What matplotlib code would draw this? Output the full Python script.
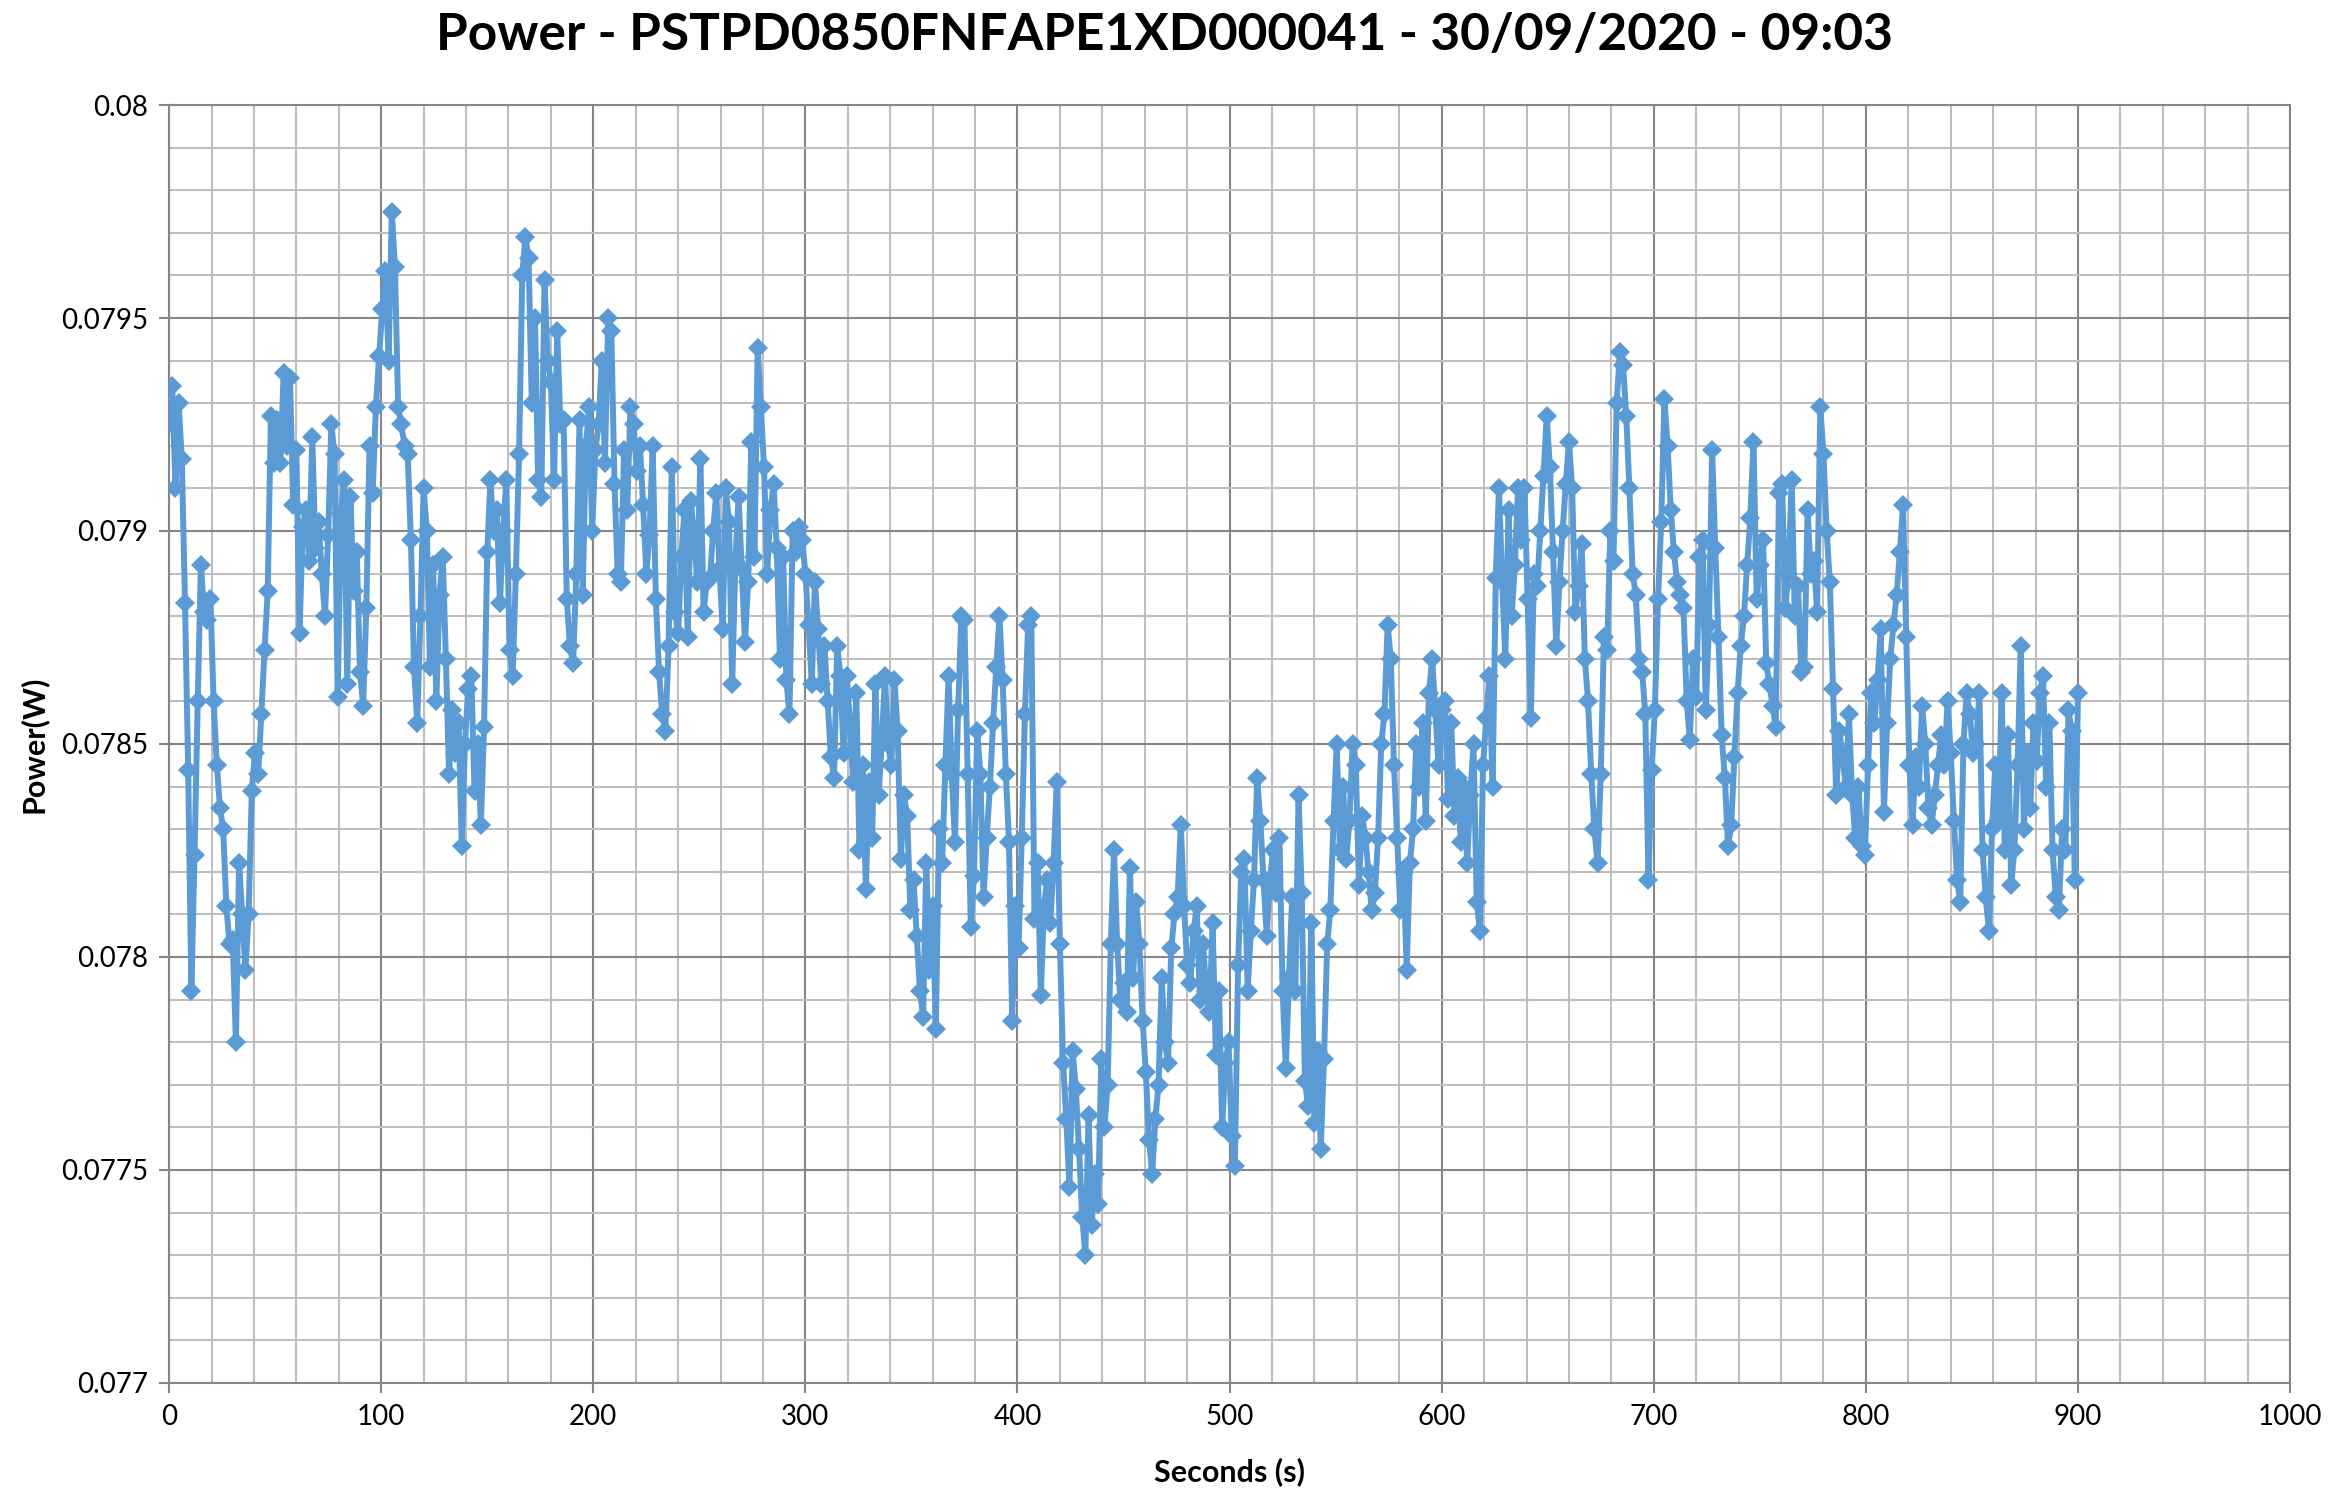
import numpy as np
import matplotlib
matplotlib.use("Agg")
import matplotlib.pyplot as plt
from matplotlib.ticker import MultipleLocator, FuncFormatter

# logged power samples (W), one every 1.5 s from 0 s to 900 s
power_w = [
    0.07925, 0.07934, 0.07910, 0.07930, 0.07917, 0.07883, 0.07844, 0.07792, 0.07824, 0.07860,
    0.07892, 0.07881, 0.07879, 0.07884, 0.07860, 0.07845, 0.07835, 0.07830, 0.07812, 0.07803,
    0.07804, 0.07780, 0.07822, 0.07810, 0.07797, 0.07810, 0.07839, 0.07848, 0.07843, 0.07857,
    0.07872, 0.07886, 0.07927, 0.07916, 0.07926, 0.07916, 0.07937, 0.07920, 0.07936, 0.07906,
    0.07919, 0.07876, 0.07901, 0.07905, 0.07893, 0.07922, 0.07896, 0.07902, 0.07890, 0.07880,
    0.07899, 0.07925, 0.07918, 0.07861, 0.07904, 0.07912, 0.07864, 0.07908, 0.07886, 0.07895,
    0.07867, 0.07859, 0.07882, 0.07920, 0.07909, 0.07929, 0.07941, 0.07952, 0.07961, 0.07940,
    0.07975, 0.07962, 0.07929, 0.07925, 0.07920, 0.07918, 0.07898, 0.07868, 0.07855, 0.07880,
    0.07910, 0.07900, 0.07868, 0.07892, 0.07860, 0.07885, 0.07894, 0.07870, 0.07843, 0.07858,
    0.07848, 0.07855, 0.07826, 0.07850, 0.07863, 0.07866, 0.07839, 0.07850, 0.07831, 0.07854,
    0.07895, 0.07912, 0.07900, 0.07905, 0.07883, 0.07900, 0.07912, 0.07872, 0.07866, 0.07890,
    0.07918, 0.07960, 0.07969, 0.07964, 0.07930, 0.07950, 0.07912, 0.07908, 0.07959, 0.07940,
    0.07935, 0.07912, 0.07947, 0.07925, 0.07926, 0.07884, 0.07873, 0.07869, 0.07890, 0.07926,
    0.07885, 0.07920, 0.07929, 0.07900, 0.07919, 0.07925, 0.07940, 0.07916, 0.07950, 0.07947,
    0.07911, 0.07890, 0.07888, 0.07919, 0.07905, 0.07929, 0.07925, 0.07914, 0.07920, 0.07906,
    0.07890, 0.07899, 0.07920, 0.07884, 0.07867, 0.07857, 0.07853, 0.07873, 0.07915, 0.07881,
    0.07876, 0.07894, 0.07905, 0.07875, 0.07907, 0.07899, 0.07888, 0.07917, 0.07881, 0.07888,
    0.07889, 0.07900, 0.07909, 0.07891, 0.07877, 0.07910, 0.07902, 0.07864, 0.07893, 0.07908,
    0.07891, 0.07874, 0.07888, 0.07921, 0.07894, 0.07943, 0.07929, 0.07915, 0.07890, 0.07905,
    0.07911, 0.07896, 0.07870, 0.07894, 0.07865, 0.07857, 0.07900, 0.07895, 0.07901, 0.07898,
    0.07890, 0.07878, 0.07864, 0.07888, 0.07877, 0.07864, 0.07873, 0.07860, 0.07847, 0.07842,
    0.07873, 0.07866, 0.07848, 0.07866, 0.07855, 0.07841, 0.07862, 0.07825, 0.07845, 0.07816,
    0.07841, 0.07828, 0.07864, 0.07838, 0.07850, 0.07866, 0.07850, 0.07845, 0.07865, 0.07853,
    0.07823, 0.07838, 0.07833, 0.07811, 0.07818, 0.07805, 0.07792, 0.07786, 0.07822, 0.07797,
    0.07812, 0.07783, 0.07830, 0.07822, 0.07845, 0.07866, 0.07843, 0.07827, 0.07858, 0.07880,
    0.07879, 0.07843, 0.07807, 0.07819, 0.07853, 0.07843, 0.07814, 0.07828, 0.07840, 0.07855,
    0.07868, 0.07880, 0.07865, 0.07843, 0.07827, 0.07785, 0.07812, 0.07802, 0.07828, 0.07857,
    0.07878, 0.07880, 0.07809, 0.07822, 0.07791, 0.07812, 0.07818, 0.07808, 0.07822, 0.07841,
    0.07803, 0.07775, 0.07762, 0.07746, 0.07778, 0.07769, 0.07755, 0.07739, 0.07730, 0.07763,
    0.07737, 0.07749, 0.07742, 0.07776, 0.07760, 0.07770, 0.07803, 0.07825, 0.07803, 0.07790,
    0.07794, 0.07787, 0.07821, 0.07795, 0.07813, 0.07803, 0.07785, 0.07773, 0.07757, 0.07749,
    0.07762, 0.07770, 0.07795, 0.07780, 0.07775, 0.07802, 0.07810, 0.07814, 0.07831, 0.07812,
    0.07798, 0.07794, 0.07806, 0.07812, 0.07790, 0.07803, 0.07792, 0.07787, 0.07808, 0.07777,
    0.07792, 0.07760, 0.07775, 0.07780, 0.07758, 0.07751, 0.07798, 0.07820, 0.07823, 0.07792,
    0.07806, 0.07818, 0.07842, 0.07832, 0.07818, 0.07805, 0.07818, 0.07825, 0.07815, 0.07828,
    0.07792, 0.07774, 0.07795, 0.07814, 0.07792, 0.07838, 0.07815, 0.07771, 0.07765, 0.07808,
    0.07761, 0.07778, 0.07755, 0.07776, 0.07803, 0.07811, 0.07832, 0.07850, 0.07825, 0.07840,
    0.07823, 0.07832, 0.07850, 0.07845, 0.07817, 0.07833, 0.07828, 0.07820, 0.07811, 0.07815,
    0.07828, 0.07850, 0.07857, 0.07878, 0.07870, 0.07845, 0.07828, 0.07811, 0.07820, 0.07797,
    0.07822, 0.07830, 0.07850, 0.07840, 0.07855, 0.07832, 0.07862, 0.07870, 0.07858, 0.07845,
    0.07858, 0.07860, 0.07837, 0.07855, 0.07833, 0.07842, 0.07827, 0.07840, 0.07822, 0.07838,
    0.07850, 0.07813, 0.07806, 0.07845, 0.07856, 0.07866, 0.07840, 0.07889, 0.07910, 0.07888,
    0.07870, 0.07905, 0.07880, 0.07892, 0.07910, 0.07898, 0.07910, 0.07884, 0.07856, 0.07890,
    0.07887, 0.07900, 0.07913, 0.07927, 0.07915, 0.07895, 0.07873, 0.07888, 0.07900, 0.07911,
    0.07921, 0.07910, 0.07881, 0.07887, 0.07897, 0.07870, 0.07860, 0.07843, 0.07830, 0.07822,
    0.07843, 0.07875, 0.07872, 0.07900, 0.07893, 0.07930, 0.07942, 0.07939, 0.07927, 0.07910,
    0.07890, 0.07885, 0.07870, 0.07867, 0.07857, 0.07818, 0.07844, 0.07858, 0.07884, 0.07902,
    0.07931, 0.07920, 0.07905, 0.07895, 0.07888, 0.07885, 0.07882, 0.07860, 0.07851, 0.07870,
    0.07861, 0.07894, 0.07898, 0.07858, 0.07878, 0.07919, 0.07896, 0.07875, 0.07852, 0.07842,
    0.07826, 0.07831, 0.07847, 0.07862, 0.07873, 0.07880, 0.07892, 0.07903, 0.07921, 0.07884,
    0.07892, 0.07898, 0.07869, 0.07864, 0.07859, 0.07854, 0.07909, 0.07911, 0.07882, 0.07890,
    0.07912, 0.07880, 0.07887, 0.07867, 0.07868, 0.07905, 0.07890, 0.07893, 0.07881, 0.07929,
    0.07918, 0.07900, 0.07888, 0.07863, 0.07838, 0.07853, 0.07847, 0.07840, 0.07857, 0.07838,
    0.07828, 0.07840, 0.07826, 0.07824, 0.07845, 0.07862, 0.07855, 0.07865, 0.07877, 0.07834,
    0.07855, 0.07870, 0.07878, 0.07885, 0.07895, 0.07906, 0.07875, 0.07845, 0.07831, 0.07847,
    0.07840, 0.07859, 0.07850, 0.07835, 0.07831, 0.07838, 0.07845, 0.07852, 0.07845, 0.07860,
    0.07848, 0.07832, 0.07818, 0.07813, 0.07850, 0.07862, 0.07857, 0.07848, 0.07850, 0.07862,
    0.07825, 0.07814, 0.07806, 0.07830, 0.07845, 0.07832, 0.07862, 0.07825, 0.07852, 0.07817,
    0.07825, 0.07845, 0.07873, 0.07830, 0.07848, 0.07835, 0.07855, 0.07846, 0.07862, 0.07866,
    0.07840, 0.07855, 0.07825, 0.07814, 0.07811, 0.07830, 0.07825, 0.07858, 0.07853, 0.07818,
    0.07862,
]
sample_period_s = 1.5
seconds = np.arange(len(power_w)) * sample_period_s

title = "Power - PSTPD0850FNFAPE1XD000041 - 30/09/2020 - 09:03"

plt.rcParams["font.family"] = ["Lato", "DejaVu Sans"]

major_col = "#868686"
minor_col = "#bfbfbf"

fig = plt.figure(figsize=(23.29, 14.98), dpi=100)
ax = fig.add_axes([0.0726, 0.0768, 0.9107, 0.8531])

ax.plot(seconds, power_w, color="#5b9bd5", linewidth=4.3, marker="D",
        markersize=10.5, markeredgewidth=0, zorder=3)

ax.set_xlim(0, 1000)
ax.set_ylim(0.077, 0.080)
ax.xaxis.set_major_locator(MultipleLocator(100))
ax.xaxis.set_minor_locator(MultipleLocator(20))
ax.yaxis.set_major_locator(MultipleLocator(0.0005))
ax.yaxis.set_minor_locator(MultipleLocator(0.0001))
ax.yaxis.set_major_formatter(FuncFormatter(lambda v, p: "%g" % round(v, 5)))

ax.grid(which="major", color=major_col, linewidth=1.5)
ax.grid(which="minor", color=minor_col, linewidth=1.5)
ax.set_axisbelow(True)
for s in ax.spines.values():
    s.set_color(major_col)
    s.set_linewidth(1.5)

ax.tick_params(which="major", direction="out", length=7, width=1.5,
               color=major_col, labelsize=20, pad=8)
ax.tick_params(which="minor", length=0)

ax.set_xlabel("Seconds (s)", fontsize=22, fontweight="bold", labelpad=20)
ax.set_ylabel("Power(W)", fontsize=22, fontweight="bold", labelpad=10)
fig.text(0.5, 0.976, title, ha="center", va="center",
         fontsize=37, fontweight="bold")

fig.savefig("out.png", dpi=100)
